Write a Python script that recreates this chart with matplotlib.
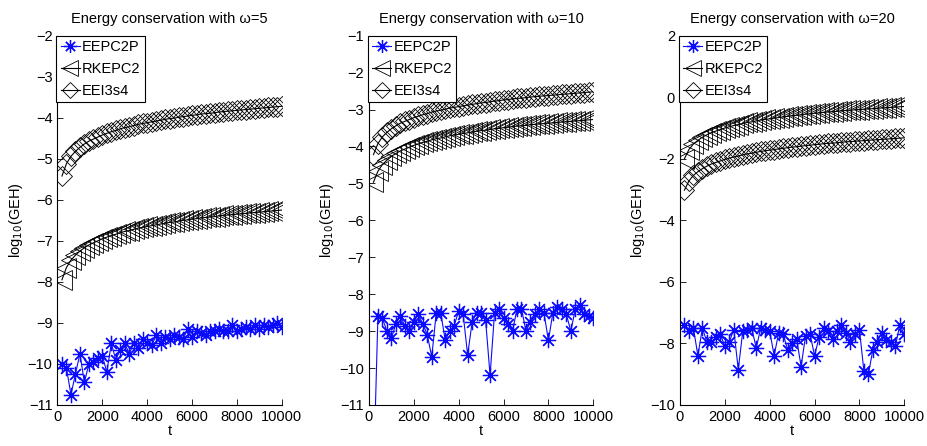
import matplotlib
matplotlib.use("Agg")
import matplotlib.pyplot as plt

plt.rcParams['font.family'] = ['Liberation Sans', 'DejaVu Sans']
plt.rcParams['font.size'] = 10.5

t = [200 * k for k in range(1, 51)]

# omega = 5
eepc2p_5 = [-10.0, -10.1, -10.75, -10.25, -9.75, -10.45, -10.0, -9.95, -9.85, -9.8,
            -10.2, -9.5, -9.9, -9.65, -9.5, -9.75, -9.5, -9.6, -9.4, -9.5,
            -9.55, -9.3, -9.5, -9.35, -9.4, -9.3, -9.35, -9.4, -9.15, -9.35,
            -9.2, -9.25, -9.3, -9.2, -9.2, -9.15, -9.2, -9.2, -9.05, -9.2,
            -9.15, -9.1, -9.15, -9.05, -9.15, -9.05, -9.1, -9.05, -9.0, -9.1]
rkepc2_5 = [-7.95, -7.65, -7.47, -7.35, -7.25, -7.17, -7.10, -7.05, -7.00, -6.95,
            -6.91, -6.87, -6.84, -6.80, -6.77, -6.75, -6.72, -6.69, -6.67, -6.65,
            -6.63, -6.61, -6.59, -6.57, -6.55, -6.54, -6.52, -6.50, -6.49, -6.47,
            -6.46, -6.44, -6.43, -6.42, -6.41, -6.39, -6.38, -6.37, -6.36, -6.35,
            -6.34, -6.33, -6.32, -6.31, -6.30, -6.29, -6.28, -6.27, -6.26, -6.25]
eei3s4_5 = [-5.42, -5.12, -4.94, -4.82, -4.72, -4.64, -4.57, -4.52, -4.47, -4.42,
            -4.38, -4.34, -4.31, -4.27, -4.24, -4.22, -4.19, -4.16, -4.14, -4.12,
            -4.10, -4.08, -4.06, -4.04, -4.02, -4.01, -3.99, -3.97, -3.96, -3.94,
            -3.93, -3.91, -3.90, -3.89, -3.88, -3.86, -3.85, -3.84, -3.83, -3.82,
            -3.81, -3.80, -3.79, -3.78, -3.77, -3.76, -3.75, -3.74, -3.73, -3.72]

# omega = 10
eepc2p_10 = [-13.0, -8.6, -8.65, -9.0, -9.2, -8.8, -8.6, -8.85, -9.0, -8.75,
             -8.55, -8.8, -9.1, -9.7, -8.5, -8.5, -9.25, -9.0, -8.85, -8.45,
             -8.55, -9.65, -8.75, -8.5, -8.5, -8.7, -10.2, -8.5, -8.4, -8.65,
             -8.8, -9.0, -8.4, -8.4, -9.0, -8.75, -8.55, -8.4, -8.5, -9.25,
             -8.5, -8.35, -8.4, -8.55, -9.0, -8.4, -8.3, -8.55, -8.6, -8.65]
rkepc2_10 = [-4.97, -4.67, -4.49, -4.37, -4.27, -4.19, -4.12, -4.07, -4.02, -3.97,
             -3.93, -3.89, -3.86, -3.82, -3.79, -3.77, -3.74, -3.71, -3.69, -3.67,
             -3.65, -3.63, -3.61, -3.59, -3.57, -3.56, -3.54, -3.52, -3.51, -3.49,
             -3.48, -3.46, -3.45, -3.44, -3.43, -3.41, -3.40, -3.39, -3.38, -3.37,
             -3.36, -3.35, -3.34, -3.33, -3.32, -3.31, -3.30, -3.29, -3.28, -3.27]
eei3s4_10 = [-4.22, -3.92, -3.74, -3.62, -3.52, -3.44, -3.37, -3.32, -3.27, -3.22,
             -3.18, -3.14, -3.11, -3.07, -3.04, -3.02, -2.99, -2.96, -2.94, -2.92,
             -2.90, -2.88, -2.86, -2.84, -2.82, -2.81, -2.79, -2.77, -2.76, -2.74,
             -2.73, -2.71, -2.70, -2.69, -2.68, -2.66, -2.65, -2.64, -2.63, -2.62,
             -2.61, -2.60, -2.59, -2.58, -2.57, -2.56, -2.55, -2.54, -2.53, -2.52]

# omega = 20
eepc2p_20 = [-7.4, -7.6, -7.5, -8.4, -7.5, -7.95, -7.95, -7.8, -7.7, -8.1,
             -7.95, -7.55, -8.85, -7.6, -7.55, -7.5, -8.15, -7.5, -7.55, -7.6,
             -8.4, -7.65, -7.7, -8.2, -8.0, -7.85, -8.75, -7.75, -7.7, -8.4,
             -7.8, -7.5, -7.6, -7.85, -7.6, -7.4, -7.65, -7.95, -7.7, -7.55,
             -8.9, -9.0, -8.2, -7.95, -7.65, -7.9, -7.95, -8.1, -7.4, -7.7]
rkepc2_20 = [-2.00, -1.70, -1.52, -1.40, -1.30, -1.22, -1.15, -1.10, -1.05, -1.00,
             -0.96, -0.92, -0.89, -0.85, -0.82, -0.80, -0.77, -0.74, -0.72, -0.70,
             -0.68, -0.66, -0.64, -0.62, -0.60, -0.59, -0.57, -0.55, -0.54, -0.52,
             -0.51, -0.49, -0.48, -0.47, -0.46, -0.44, -0.43, -0.42, -0.41, -0.40,
             -0.39, -0.38, -0.37, -0.36, -0.35, -0.34, -0.33, -0.32, -0.31, -0.30]
eei3s4_20 = [-3.02, -2.72, -2.54, -2.42, -2.32, -2.24, -2.17, -2.12, -2.07, -2.02,
             -1.98, -1.94, -1.91, -1.87, -1.84, -1.82, -1.79, -1.76, -1.74, -1.72,
             -1.70, -1.68, -1.66, -1.64, -1.62, -1.61, -1.59, -1.57, -1.56, -1.54,
             -1.53, -1.51, -1.50, -1.49, -1.48, -1.46, -1.45, -1.44, -1.43, -1.42,
             -1.41, -1.40, -1.39, -1.38, -1.37, -1.36, -1.35, -1.34, -1.33, -1.32]

omegas = [5, 10, 20]
blue_series = [eepc2p_5, eepc2p_10, eepc2p_20]
tri_series = [rkepc2_5, rkepc2_10, rkepc2_20]
dia_series = [eei3s4_5, eei3s4_10, eei3s4_20]
ylims = [(-11, -2), (-11, -1), (-10, 2)]
yticks = [range(-11, -1), range(-11, 0), range(-10, 3, 2)]
lefts = [0.062, 0.398, 0.7335]

fig = plt.figure(figsize=(9.27, 4.46), dpi=100)

for i in range(3):
    ax = fig.add_axes([lefts[i], 0.092, 0.242, 0.828])
    ax.plot(t, blue_series[i], color='#0a0aff', lw=0.8, marker=(8, 2, 0),
            ms=11, mew=0.9, label='EEPC2P')
    ax.plot(t, tri_series[i], color='black', lw=0.8, marker='<', ms=14,
            mfc='none', mew=0.6, label='RKEPC2')
    ax.plot(t, dia_series[i], color='black', lw=0.8, marker='D', ms=10,
            mfc='none', mew=0.6, label='EEI3s4')
    ax.set_xlim(0, 10000)
    ax.set_ylim(*ylims[i])
    ax.set_xticks(range(0, 10001, 2000))
    ax.set_yticks(list(yticks[i]))
    ax.spines['top'].set_visible(False)
    ax.spines['right'].set_visible(False)
    ax.tick_params(direction='in', length=4, width=0.6, labelsize=10.5)
    ax.set_title('Energy conservation with \u03c9=%d' % omegas[i], fontsize=10.5, pad=9)
    ax.set_xlabel('t', labelpad=0)
    ax.set_ylabel('log$_{10}$(GEH)', labelpad=2)
    leg = ax.legend(loc='upper left', bbox_to_anchor=(-0.005, 1.0), borderaxespad=0,
                    fancybox=False, framealpha=1, edgecolor='black', fontsize=10.5,
                    handlelength=1.3, handletextpad=0.15, labelspacing=0.55,
                    borderpad=0.3, markerscale=0.85)
    leg.get_frame().set_linewidth(0.8)

fig.savefig('out.png', dpi=100)
